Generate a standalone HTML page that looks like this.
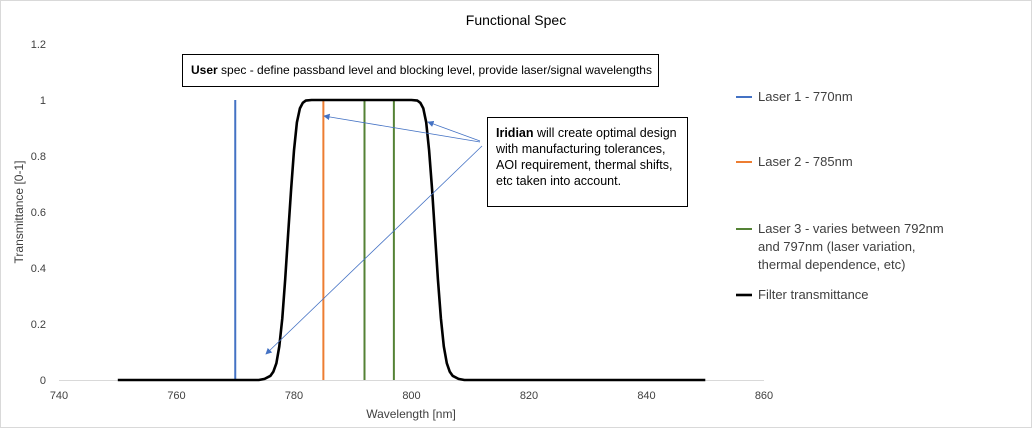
<!DOCTYPE html>
<html><head><meta charset="utf-8"><style>
body{margin:0;background:#fff}
svg text{font-family:"Liberation Sans",sans-serif;fill:#404040}
</style></head><body>
<svg id="c" width="1033" height="429" xmlns="http://www.w3.org/2000/svg">
<rect x="0.5" y="0.5" width="1031" height="427" fill="#fff" stroke="#d9d9d9"/>
<text x="516" y="25" font-size="14" text-anchor="middle" style="fill:#000">Functional Spec</text>
<g id="plot"></g>
<text transform="translate(23,212) rotate(-90)" font-size="12" text-anchor="middle">Transmittance [0-1]</text>
<text x="411" y="418" font-size="12" text-anchor="middle">Wavelength [nm]</text>
<g>
<rect x="182.5" y="54.5" width="476" height="32" fill="#fff" stroke="#000"/>
<text x="191" y="74" font-size="12" style="fill:#000"><tspan font-weight="bold">User</tspan> spec - define passband level and blocking level, provide laser/signal wavelengths</text>
</g>
<g>
<rect x="487.5" y="117.5" width="200" height="89" fill="#fff" stroke="#000"/>
<text font-size="12.5" style="fill:#000"><tspan x="496" y="137"><tspan font-weight="bold">Iridian</tspan> will create optimal design</tspan><tspan x="496" y="153">with manufacturing tolerances,</tspan><tspan x="496" y="169">AOI requirement, thermal shifts,</tspan><tspan x="496" y="185">etc taken into account.</tspan></text>
</g>
<defs><marker id="ah" markerWidth="8" markerHeight="8" refX="7" refY="4" orient="auto"><path d="M0,0 L8,4 L0,8z" fill="#4472C4"/></marker></defs>
<g stroke="#4472C4" stroke-width="0.8" fill="none">
<line x1="480" y1="142" x2="324" y2="116" marker-end="url(#ah)"/>
<line x1="480" y1="141" x2="428" y2="122" marker-end="url(#ah)"/>
<line x1="482" y1="146" x2="266" y2="354" marker-end="url(#ah)"/>
</g>
<g id="legend" font-size="13"></g>
</svg>
<script>
const xTicks=[740,760,780,800,820,840,860];
const yTicks=[0,0.2,0.4,0.6,0.8,1,1.2];
const yTickLabels=["0","0.2","0.4","0.6","0.8","1","1.2"];
const laserWl=[770,785,792,797];
const laserVal=[1,1,1,1];
const filterWl=[750,774,775,776,776.5,777,777.5,778,778.5,779,779.5,780,780.5,781,781.5,782,783,800,801,801.5,802,802.5,803,803.5,804,804.5,805,805.5,806,806.5,807,808,809,850];
const filterT=[0,0,0.004,0.015,0.03,0.06,0.12,0.22,0.36,0.52,0.68,0.82,0.92,0.97,0.99,0.998,1,1,0.998,0.99,0.97,0.92,0.82,0.68,0.52,0.36,0.22,0.12,0.06,0.03,0.015,0.004,0,0];
const NS="http://www.w3.org/2000/svg";
const X=v=>59+(v-740)*(764-59)/120;
const Y=v=>380-v*280;
const plot=document.getElementById('plot');
function mk(t,a,p){const e=document.createElementNS(NS,t);for(const k in a)e.setAttribute(k,a[k]);(p||plot).appendChild(e);return e;}
let ax=mk('line',{x1:59,y1:380.5,x2:764,y2:380.5,stroke:'#d9d9d9'});


xTicks.forEach(v=>{const t=mk('text',{x:X(v),y:399,'font-size':11,'text-anchor':'middle'});t.textContent=v;

});
yTicks.forEach((v,i)=>{const t=mk('text',{x:46,y:Y(v)+4,'font-size':11,'text-anchor':'end'});t.textContent=yTickLabels[i];

});
const colors=['#4472C4','#ED7D31','#548235','#548235'];
laserWl.forEach((w,i)=>{const l=mk('line',{x1:X(w),x2:X(w),y1:Y(0),y2:Y(laserVal[i]),stroke:colors[i],'stroke-width':2});

});
let d=filterWl.map((w,i)=>(i?'L':'M')+X(w).toFixed(1)+','+Y(filterT[i]).toFixed(1)).join(' ');
let f=mk('path',{d:d,fill:'none',stroke:'#000','stroke-width':2.6,'stroke-linejoin':'round'});


const lg=document.getElementById('legend');
const items=[[97,'#4472C4',['Laser 1 - 770nm'],2],[162,'#ED7D31',['Laser 2 - 785nm'],2],[229,'#548235',['Laser 3 - varies between 792nm','and 797nm (laser variation,','thermal dependence, etc)'],2],[295,'#000',['Filter transmittance'],2.6]];
items.forEach(it=>{const g=mk('g',{},lg);


mk('line',{x1:736,x2:752,y1:it[0],y2:it[0],stroke:it[1],'stroke-width':it[3]},g);
it[2].forEach((s,j)=>{const t=mk('text',{x:758,y:it[0]+4+j*18},g);t.textContent=s;});});
</script>
</body></html>
